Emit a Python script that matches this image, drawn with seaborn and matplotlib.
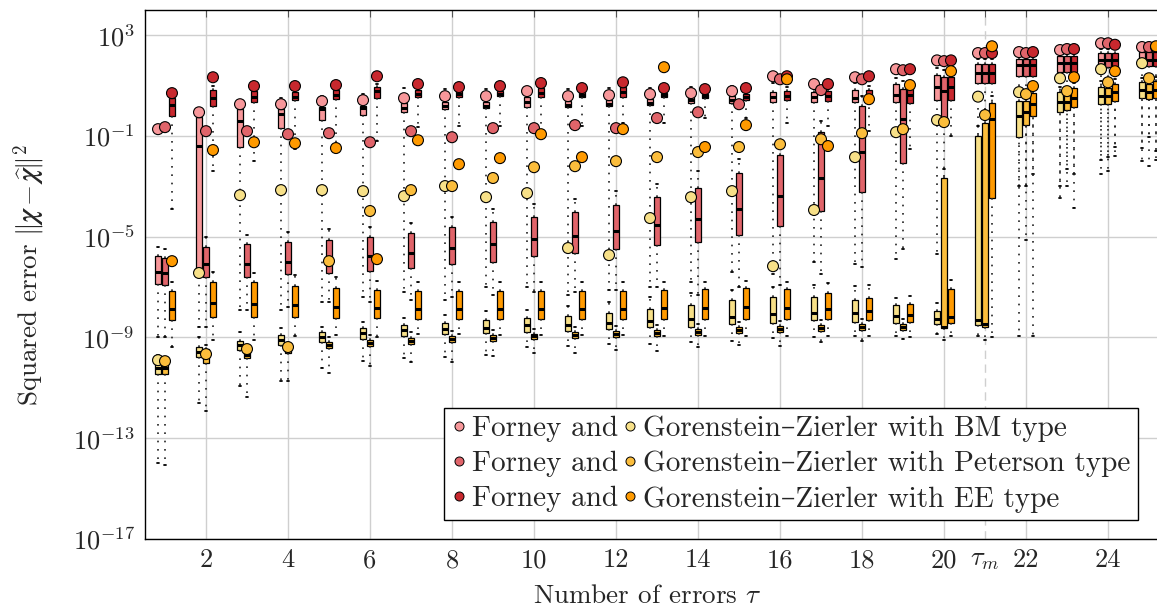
import numpy as np
import pandas as pd
import matplotlib
matplotlib.use("Agg")
import matplotlib.pyplot as plt
import seaborn as sns
from matplotlib.lines import Line2D
from matplotlib.ticker import FixedLocator, FixedFormatter, NullLocator

# ---------------------------------------------------------------------------
# Squared error per number of errors tau, stored as log10 values:
# whisker ends (lo / hi), quartiles (q1 / q3), median and mean.
# ---------------------------------------------------------------------------
tau = list(range(1, 26))
types = ["BM", "Peterson", "EE"]

forney_bm_lo = [-9.0, -8.6, -7.9, -7.9, -7.6, -7.4, -7.2, -7.5, -7.0, -7.0, -7.3, -7.1, -7.0, -6.8, -6.4, -6.5, -6.0, -6.1, -5.9, -5.7, -4.0, -3.0, -3.0, -2.5, -2.0]
forney_bm_q1 = [-6.88, -6.25, -1.44, -0.69, -0.37, -0.17, -0.06, 0.06, 0.10, 0.14, 0.14, 0.18, 0.22, 0.30, 0.30, 0.34, 0.34, 0.34, 0.34, 0.42, 1.10, 1.39, 1.53, 1.73, 1.77]
forney_bm_med = [-6.40, -1.40, -0.41, -0.13, 0.06, 0.10, 0.10, 0.20, 0.20, 0.34, 0.24, 0.28, 0.32, 0.42, 0.44, 0.54, 0.54, 0.50, 0.62, 0.94, 1.49, 1.80, 1.89, 2.00, 2.00]
forney_bm_q3 = [-5.77, -0.25, 0.06, 0.06, 0.14, 0.18, 0.30, 0.34, 0.34, 0.54, 0.38, 0.42, 0.46, 0.54, 0.58, 0.74, 0.74, 0.82, 1.06, 1.41, 1.85, 2.07, 2.17, 2.29, 2.33]
forney_bm_hi = [-5.40, 0.10, 0.40, 0.50, 0.60, 0.65, 0.90, 0.85, 0.85, 0.95, 0.85, 0.90, 0.90, 0.95, 1.00, 1.10, 1.10, 1.10, 1.30, 1.70, 2.05, 2.25, 2.35, 2.45, 2.45]
forney_bm_mean = [-0.73, -0.06, 0.26, 0.26, 0.38, 0.42, 0.50, 0.58, 0.58, 0.78, 0.58, 0.62, 0.66, 0.70, 0.78, 1.37, 1.06, 1.33, 1.65, 2.00, 2.29, 2.33, 2.41, 2.68, 2.53]

forney_pet_lo = [-9.0, -8.6, -7.9, -7.8, -7.6, -7.6, -7.5, -7.4, -7.3, -7.2, -7.2, -7.1, -7.0, -7.3, -7.0, -6.9, -6.5, -6.2, -5.5, -4.5, -3.5, -3.0, -3.0, -2.4, -2.2]
forney_pet_q1 = [-6.92, -6.60, -6.60, -6.48, -6.44, -6.37, -6.25, -6.09, -6.00, -5.77, -5.65, -5.49, -5.33, -5.21, -4.94, -4.58, -3.98, -3.23, -2.08, -0.57, 1.10, 1.39, 1.53, 1.73, 1.77]
forney_pet_med = [-6.44, -6.09, -6.09, -6.00, -5.97, -5.77, -5.65, -5.45, -5.29, -5.10, -4.98, -4.78, -4.54, -4.30, -3.90, -3.39, -2.67, -1.64, -0.33, 0.78, 1.49, 1.80, 1.89, 2.00, 2.00]
forney_pet_q3 = [-5.85, -5.41, -5.29, -5.21, -5.13, -5.00, -4.86, -4.62, -4.42, -4.22, -4.02, -3.75, -3.43, -3.07, -2.48, -1.76, -0.85, 0.18, 0.86, 1.33, 1.85, 2.07, 2.17, 2.29, 2.33]
forney_pet_hi = [-5.50, -5.00, -4.94, -4.80, -4.70, -4.60, -4.46, -4.20, -3.90, -3.70, -3.50, -3.20, -2.90, -2.40, -1.90, -1.20, -0.40, 0.60, 1.20, 1.60, 2.05, 2.25, 2.35, 2.45, 2.45]
forney_pet_mean = [-0.65, -0.81, -0.81, -0.93, -0.89, -1.25, -0.81, -1.05, -0.69, -0.69, -0.57, -0.69, -0.29, -0.06, 0.26, 1.25, 0.82, 1.25, 1.61, 1.97, 2.29, 2.29, 2.45, 2.68, 2.53]

forney_ee_lo = [-3.9, -2.4, -2.0, -1.5, -1.3, -1.2, -0.65, -0.6, -0.6, -0.8, -0.6, -0.5, -0.5, -0.3, -0.3, -0.5, -0.6, -0.8, -1.5, -1.0, -2.0, -2.5, -2.5, -1.8, -1.6]
forney_ee_q1 = [-0.21, 0.18, 0.34, 0.42, 0.46, 0.50, 0.54, 0.54, 0.58, 0.54, 0.54, 0.54, 0.54, 0.50, 0.42, 0.42, 0.38, 0.46, 0.30, 0.42, 1.10, 1.39, 1.53, 1.73, 1.77]
forney_ee_med = [0.22, 0.50, 0.54, 0.56, 0.62, 0.78, 0.68, 0.66, 0.68, 0.72, 0.64, 0.74, 0.62, 0.58, 0.54, 0.60, 0.58, 0.64, 0.62, 0.94, 1.49, 1.80, 1.89, 2.00, 2.00]
forney_ee_q3 = [0.50, 0.82, 0.78, 0.74, 0.82, 0.94, 0.82, 0.78, 0.78, 0.90, 0.74, 0.94, 0.70, 0.66, 0.66, 0.78, 0.78, 0.82, 1.02, 1.33, 1.85, 2.07, 2.17, 2.29, 2.33]
forney_ee_hi = [0.60, 1.00, 0.90, 0.90, 0.95, 1.05, 0.95, 0.90, 0.90, 1.00, 0.90, 1.05, 0.85, 0.80, 0.80, 0.95, 0.95, 1.00, 1.20, 1.55, 2.05, 2.25, 2.35, 2.45, 2.45]
forney_ee_mean = [0.70, 1.33, 0.98, 0.98, 1.02, 1.37, 1.06, 0.94, 0.98, 1.10, 0.90, 1.13, 0.90, 0.86, 0.90, 1.37, 1.06, 1.37, 1.65, 2.00, 2.29, 2.33, 2.45, 2.62, 2.53]

gz_bm_lo = [-14.0, -11.6, -10.93, -10.73, -10.2, -9.94, -9.82, -9.78, -9.7, -9.38, -9.34, -9.26, -9.26, -9.18, -9.14, -9.02, -8.98, -8.94, -8.94, -8.86, -8.94, -8.94, -3.47, -1.96, -1.48]
gz_bm_q1 = [-10.45, -9.78, -9.50, -9.30, -9.18, -9.06, -8.94, -8.86, -8.82, -8.79, -8.75, -8.67, -8.59, -8.59, -8.47, -8.43, -8.31, -8.39, -8.43, -8.47, -8.51, -1.05, -0.06, 0.26, 0.50]
gz_bm_med = [-10.20, -9.58, -9.30, -9.10, -9.00, -8.83, -8.70, -8.67, -8.63, -8.51, -8.51, -8.43, -8.35, -8.27, -8.19, -8.07, -8.03, -8.03, -8.15, -8.27, -8.31, -0.21, 0.34, 0.60, 0.82]
gz_bm_q3 = [-10.06, -9.38, -9.14, -8.90, -8.79, -8.63, -8.51, -8.43, -8.31, -8.23, -8.15, -8.03, -7.87, -7.71, -7.52, -7.40, -7.40, -7.52, -7.71, -7.95, -0.99, 0.38, 0.74, 0.94, 1.13]
gz_bm_hi = [-9.70, -9.00, -8.80, -8.63, -8.60, -8.40, -8.23, -8.10, -7.95, -7.90, -7.75, -7.60, -7.40, -7.25, -7.10, -7.00, -6.90, -6.95, -7.44, -7.63, -0.60, 0.55, 0.95, 1.20, 1.30]
gz_bm_mean = [-9.90, -6.44, -3.35, -3.15, -3.15, -3.19, -3.39, -2.99, -3.43, -3.27, -5.45, -5.73, -4.26, -3.43, -3.19, -6.17, -3.94, -1.84, -0.85, -0.37, 0.56, 0.74, 1.29, 1.65, 1.89]

gz_pet_lo = [-14.06, -11.9, -11.37, -10.73, -10.4, -10.13, -9.98, -9.98, -9.75, -9.62, -9.62, -9.5, -9.54, -9.38, -9.3, -9.34, -9.18, -9.14, -9.06, -9.1, -9.1, -5.13, -2.3, -1.84, -1.05]
gz_pet_q1 = [-10.45, -10.00, -9.80, -9.60, -9.42, -9.34, -9.26, -9.18, -9.14, -9.06, -9.02, -8.98, -8.94, -8.90, -8.83, -8.79, -8.75, -8.71, -8.71, -8.63, -8.59, -0.57, 0.02, 0.26, 0.46]
gz_pet_med = [-10.20, -9.70, -9.70, -9.50, -9.30, -9.20, -9.15, -9.06, -9.02, -8.96, -8.90, -8.86, -8.82, -8.78, -8.72, -8.67, -8.63, -8.59, -8.59, -8.59, -8.47, -0.06, 0.34, 0.60, 0.74]
gz_pet_q3 = [-10.06, -9.44, -9.58, -9.40, -9.18, -9.10, -9.02, -8.94, -8.90, -8.86, -8.79, -8.75, -8.71, -8.67, -8.60, -8.55, -8.51, -8.47, -8.47, -2.67, -0.49, 0.38, 0.62, 0.90, 1.06]
gz_pet_hi = [-9.80, -9.30, -9.40, -9.20, -9.00, -8.90, -8.80, -8.75, -8.70, -8.66, -8.60, -8.55, -8.50, -8.45, -8.40, -8.35, -8.30, -8.25, -8.25, -2.30, -0.30, 0.55, 0.75, 1.00, 1.15]
gz_pet_mean = [-9.94, -9.66, -9.46, -9.38, -5.97, -3.98, -3.15, -2.99, -2.67, -2.24, -2.20, -2.00, -1.84, -1.64, -1.44, -1.33, -1.13, -0.89, -0.73, -0.45, -0.17, 0.66, 0.78, 1.13, 1.29]

gz_ee_lo = [-9.38, -9.1, -9.1, -8.94, -8.9, -9.0, -8.86, -8.86, -8.9, -8.9, -8.9, -8.9, -8.94, -8.94, -8.94, -8.94, -8.94, -8.94, -8.98, -8.94, -9.0, -8.94, -3.87, -1.44, -1.96]
gz_ee_q1 = [-8.31, -8.19, -8.19, -8.19, -8.23, -8.23, -8.27, -8.27, -8.27, -8.27, -8.27, -8.27, -8.27, -8.27, -8.27, -8.27, -8.27, -8.31, -8.39, -8.43, -3.47, -0.21, 0.14, 0.38, 0.50]
gz_ee_med = [-7.87, -7.63, -7.67, -7.71, -7.79, -7.83, -7.87, -7.87, -7.87, -7.87, -7.87, -7.87, -7.83, -7.83, -7.79, -7.83, -7.87, -7.95, -8.11, -8.19, -0.33, 0.26, 0.50, 0.74, 0.82]
gz_ee_q3 = [-7.16, -6.80, -6.80, -6.96, -7.04, -7.12, -7.16, -7.16, -7.16, -7.16, -7.16, -7.16, -7.12, -7.08, -7.04, -7.08, -7.24, -7.44, -7.67, -7.08, 0.30, 0.70, 0.90, 1.06, 1.17]
gz_ee_hi = [-6.80, -6.40, -6.44, -6.52, -6.60, -6.75, -6.79, -6.80, -6.80, -6.80, -6.80, -6.80, -6.80, -6.80, -6.75, -6.80, -6.84, -6.90, -7.36, -6.72, 0.60, 0.90, 1.10, 1.25, 1.35]
gz_ee_mean = [-5.97, -1.56, -1.25, -1.29, -1.48, -5.89, -1.17, -2.12, -1.88, -0.93, -1.84, -0.73, 1.73, -1.44, -0.57, 1.25, -1.40, 0.46, 1.02, 1.57, 2.56, 0.98, 1.33, 1.57, 2.56]

forney_colors = ["#f7979a", "#e0646a", "#c8282e"]
gz_colors = ["#f7e088", "#fbbd3c", "#ff9a00"]

x_ticks = [2, 4, 6, 8, 10, 12, 14, 16, 18, 20, 21, 22, 24]
x_tick_labels = ["2", "4", "6", "8", "10", "12", "14", "16", "18", "20", r"$\tau_m$", "22", "24"]
y_ticks = [1e-17, 1e-13, 1e-9, 1e-5, 1e-1, 1e3]
y_tick_labels = [r"$10^{-17}$", r"$10^{-13}$", r"$10^{-9}$", r"$10^{-5}$", r"$10^{-1}$", r"$10^{3}$"]

forney_series = {
    "BM": (forney_bm_lo, forney_bm_q1, forney_bm_med, forney_bm_q3, forney_bm_hi, forney_bm_mean),
    "Peterson": (forney_pet_lo, forney_pet_q1, forney_pet_med, forney_pet_q3, forney_pet_hi, forney_pet_mean),
    "EE": (forney_ee_lo, forney_ee_q1, forney_ee_med, forney_ee_q3, forney_ee_hi, forney_ee_mean),
}
gz_series = {
    "BM": (gz_bm_lo, gz_bm_q1, gz_bm_med, gz_bm_q3, gz_bm_hi, gz_bm_mean),
    "Peterson": (gz_pet_lo, gz_pet_q1, gz_pet_med, gz_pet_q3, gz_pet_hi, gz_pet_mean),
    "EE": (gz_ee_lo, gz_ee_q1, gz_ee_med, gz_ee_q3, gz_ee_hi, gz_ee_mean),
}


def box_frame(series):
    """Five values per (tau, type): their min / quartiles / max are the box stats."""
    rows = []
    for kind in types:
        lo, q1, med, q3, hi, _ = series[kind]
        for i, t in enumerate(tau):
            for v in (lo[i], q1[i], med[i], q3[i], hi[i]):
                rows.append((t, kind, 10.0 ** v))
    return pd.DataFrame(rows, columns=["tau", "type", "err"])


# ---------------------------------------------------------------------------
sns.set_style("white")
plt.rcParams["font.family"] = ["cmr10", "DejaVu Serif"]
plt.rcParams["mathtext.fontset"] = "cm"
plt.rcParams["axes.unicode_minus"] = False

try:
    from matplotlib.mathtext import MathTextParser
    MathTextParser("agg").parse(r"$\boldsymbol{\chi}$")
    chi = r"\boldsymbol{\chi}"
except Exception:
    chi = r"\mathbf{\chi}"

fig = plt.figure(figsize=(11.57, 6.11), dpi=100)
ax = fig.add_axes([144.5 / 1157, 72 / 611, 1025 / 1157, 529 / 611])
ax.set_yscale("log")

group_width = 0.51       # three dodged slots per tau
gap = 0.22
slot = group_width / len(types)
offsets = {kind: (i - 1) * slot for i, kind in enumerate(types)}

box_kws = dict(
    x="tau", y="err", hue="type", hue_order=types,
    native_scale=True, log_scale=(False, True), whis=(0, 100),
    width=group_width, gap=gap, dodge=True, saturation=1,
    linecolor="black", linewidth=0.9, fliersize=0, legend=False, ax=ax,
    whiskerprops=dict(linestyle=(0, (1, 4)), linewidth=1.2, color="#222222"),
    capprops=dict(linewidth=1.3),
    medianprops=dict(linewidth=2.2, color="black"),
)
sns.boxplot(data=box_frame(forney_series), palette=forney_colors, **box_kws)
sns.boxplot(data=box_frame(gz_series), palette=gz_colors, **box_kws)

# mean markers, drawn series by series on top of the boxes
mean_rows = []
labels_order = []
for fam, series in (("Forney", forney_series), ("GZ", gz_series)):
    for kind in types:
        name = f"{fam} {kind}"
        labels_order.append(name)
        means = series[kind][5]
        for t, m in zip(tau, means):
            mean_rows.append((t + offsets[kind], 10.0 ** m, name))
mean_df = pd.DataFrame(mean_rows, columns=["x", "err", "series"])
sns.scatterplot(data=mean_df, x="x", y="err", hue="series", hue_order=labels_order,
                palette=forney_colors + gz_colors, s=62, edgecolor="black",
                linewidth=0.8, legend=False, zorder=6, clip_on=True, ax=ax)

# axes
ax.set_xlim(0.5, 25.5)
ax.set_ylim(1e-17, 1e4)
ax.xaxis.set_major_locator(FixedLocator(x_ticks))
ax.xaxis.set_major_formatter(FixedFormatter(x_tick_labels))
ax.yaxis.set_major_locator(FixedLocator(y_ticks))
ax.yaxis.set_major_formatter(FixedFormatter(y_tick_labels))
ax.yaxis.set_minor_locator(NullLocator())
ax.xaxis.set_minor_locator(NullLocator())
ax.tick_params(axis="both", which="major", direction="in", length=5, width=0.8,
               color="#555555", labelsize=19, top=True, right=True, pad=7)
ax.set_axisbelow(True)
ax.grid(True, which="major", color="#cfcfcf", linewidth=1.0)
for tick_value, gl in zip(x_ticks, ax.xaxis.get_gridlines()):
    if tick_value == 21:
        gl.set_linestyle((0, (6, 4)))
for spine in ax.spines.values():
    spine.set_color("black")
    spine.set_linewidth(1.0)

ax.set_xlabel(r"Number of errors $\tau$", fontsize=19.5)
ax.set_ylabel(r"Squared error $\Vert" + chi + r" - \widehat{" + chi + r"}\Vert^2$", fontsize=19.5)
ax.xaxis.set_label_coords(0.49, -0.085)
ax.yaxis.set_label_coords(-0.095, 0.5)

# legend: two marker columns sharing one row per decoder type
handles = [Line2D([], [], linestyle="", marker="o", markersize=6.5, markerfacecolor=c,
                  markeredgecolor="black", markeredgewidth=0.7)
           for c in forney_colors + gz_colors]
leg_labels = ["Forney and"] * 3 + [f"Gorenstein–Zierler with {k} type" for k in types]
leg = ax.legend(handles, leg_labels, ncol=2, loc="lower right",
                bbox_to_anchor=(0.969, 0.036), frameon=True, fancybox=False,
                edgecolor="black", framealpha=1, handlelength=0.5,
                handletextpad=0.2, columnspacing=0.15, borderpad=0.25,
                labelspacing=0.3, fontsize=21, borderaxespad=0)
leg.get_frame().set_linewidth(1.0)

fig.savefig("out.png", dpi=100)
